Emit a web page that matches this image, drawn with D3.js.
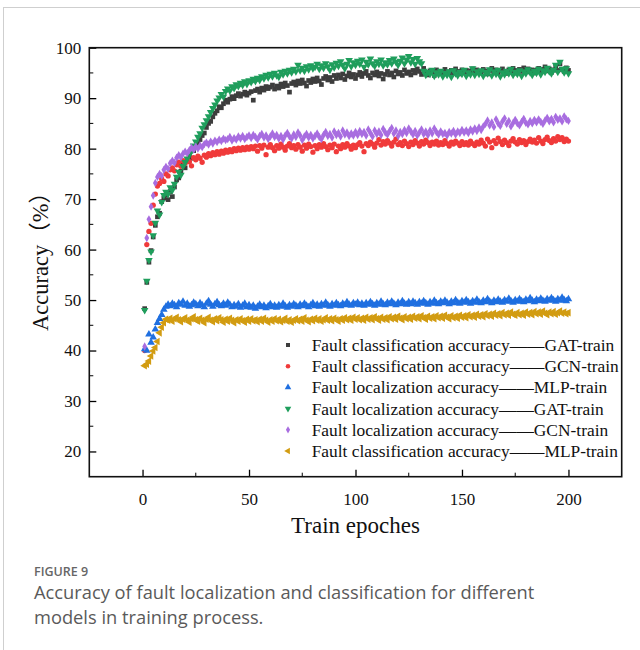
<!DOCTYPE html>
<html>
<head>
<meta charset="utf-8">
<script src="https://cdn.jsdelivr.net/npm/d3@7"></script>
<style>
  body { margin: 0; background: #fff; }
  svg { display: block; }
</style>
</head>
<body>
<script>
// DATA (one value per epoch 1..200)

let epochs = d3.range(1, 201);

let gatCls = [48.3,53.5,57.5,59.8,62.5,64.8,66.5,67.2,69.5,70.2,70.8,69.9,71.5,70.5,72.4,73.8,74.2,75.5,76.8,76.2,
  77.5,78.8,78.1,79.6,80.4,80.9,81.8,82.6,83.1,84.2,85.0,85.4,86.3,87.0,87.5,88.3,88.1,88.9,89.6,89.2,
  89.8,90.3,89.9,90.5,90.9,90.4,90.8,91.2,90.6,91.0,91.3,89.6,91.5,91.8,91.2,92.0,91.6,92.3,91.9,92.2,
  92.6,91.8,92.4,92.0,92.8,92.3,93.0,92.5,91.2,92.9,93.2,92.6,93.4,92.9,93.6,93.0,92.4,93.5,93.1,93.8,
  93.3,94.0,93.4,92.7,93.9,94.3,93.6,94.1,93.3,94.5,93.9,94.6,94.0,94.8,93.7,94.4,95.0,94.2,94.7,93.9,
  94.6,95.1,94.3,94.9,95.3,94.5,94.0,95.0,94.6,95.2,94.4,94.9,93.8,94.7,95.3,94.6,95.0,94.2,95.4,94.8,
  95.1,94.5,95.6,94.9,95.2,94.6,95.5,95.0,95.8,95.3,94.7,95.9,95.0,94.6,95.4,95.1,94.5,95.6,95.0,95.3,
  94.8,95.7,95.2,94.9,95.5,95.0,95.8,95.3,94.8,95.6,95.2,95.5,94.9,95.4,95.8,95.1,95.6,95.3,95.0,95.7,
  95.4,94.8,95.5,95.9,95.2,95.6,95.0,95.4,95.8,95.3,94.9,95.6,95.2,95.9,95.5,95.1,95.7,95.3,96.0,95.4,
  95.8,95.2,95.6,95.0,95.5,95.9,95.3,95.7,96.2,95.4,95.8,95.1,95.6,96.4,95.5,96.8,95.7,95.3,96.0,95.5];

let gcnCls = [40.0,61.0,63.6,65.2,68.8,71.0,72.6,73.1,74.0,73.5,75.0,74.6,75.8,76.2,75.6,76.8,77.3,76.5,77.6,77.1,
  77.9,77.4,76.6,78.2,77.8,78.5,78.1,77.3,78.7,78.3,79.0,78.6,79.2,78.8,79.4,78.9,79.5,79.1,79.7,79.3,
  79.8,79.4,80.0,79.6,80.1,79.7,80.2,79.8,80.3,79.9,80.4,80.0,80.5,79.5,80.6,80.1,80.7,78.8,80.3,80.8,
  80.2,79.6,80.6,80.1,80.9,80.3,79.7,80.5,81.0,80.2,80.6,79.9,80.8,80.3,79.5,80.7,80.1,80.9,80.4,79.3,
  80.6,80.0,80.8,80.3,81.0,80.4,79.8,80.7,80.2,80.9,79.4,80.5,80.0,80.8,80.3,81.0,80.5,79.9,80.7,80.2,
  80.8,81.2,80.5,79.4,81.0,80.6,81.3,80.9,80.3,81.1,81.8,80.7,81.4,80.9,81.6,81.1,80.5,81.3,81.9,80.8,
  81.2,80.6,81.5,81.0,80.4,81.3,80.8,81.6,81.1,80.5,81.4,80.9,81.7,81.2,80.6,81.3,80.9,81.5,80.7,81.2,
  80.8,81.6,81.0,80.5,81.3,80.9,81.5,81.1,80.6,81.4,80.8,81.2,80.7,81.5,81.0,80.6,81.3,80.9,81.7,81.1,
  80.5,81.9,81.3,80.2,81.6,81.0,82.1,81.4,80.8,81.7,81.2,80.6,81.5,82.0,81.3,80.9,81.8,81.2,81.6,80.8,
  81.4,81.9,81.3,81.7,81.1,82.2,81.5,81.0,81.8,82.3,81.6,81.2,82.0,81.5,82.4,81.8,82.2,81.4,81.9,81.5];

let mlpLoc = [40.3,40.0,43.2,41.6,42.6,44.2,45.5,46.3,47.1,48.1,48.7,49.1,48.8,49.3,49.0,48.6,49.4,49.1,49.7,48.9,
  49.3,48.7,49.0,49.5,49.2,48.8,49.4,49.0,48.6,49.3,49.8,49.1,48.7,49.2,49.6,49.0,48.8,49.3,48.9,49.5,
  49.1,48.6,49.0,48.7,49.2,48.5,48.9,49.3,48.6,49.0,48.5,48.9,48.3,48.7,49.1,48.6,48.9,48.4,48.8,49.2,
  48.6,48.9,48.5,49.0,48.7,49.3,48.8,48.5,49.0,48.7,49.2,48.9,48.6,49.1,48.8,49.3,48.9,48.6,49.0,49.4,
  48.8,49.1,48.7,49.2,48.9,49.5,49.0,48.7,49.2,48.9,49.4,49.0,48.8,49.3,49.0,49.6,49.1,48.9,49.4,49.1,
  49.5,49.0,49.3,48.9,49.4,49.1,49.6,49.2,48.9,49.4,49.1,49.7,49.2,49.0,49.5,49.2,49.7,49.3,49.0,49.5,
  49.2,49.8,49.3,49.1,49.6,49.2,49.7,49.4,49.1,49.6,49.3,49.8,49.4,49.1,49.6,49.3,49.9,49.4,49.2,49.7,
  49.4,49.9,49.5,49.2,49.7,49.4,50.0,49.5,49.3,49.8,49.5,50.0,49.6,49.3,49.8,49.5,50.1,49.6,49.4,49.9,
  49.6,50.2,49.7,49.4,49.9,49.6,50.1,49.7,49.5,50.0,49.7,50.3,49.8,49.5,50.0,49.7,50.2,49.8,49.6,50.1,
  49.8,50.4,49.9,49.6,50.1,49.8,50.3,49.9,49.7,50.2,49.9,50.4,50.0,49.7,50.2,49.9,50.5,50.0,49.8,50.2];

let gatLoc = [48.0,53.8,57.9,59.6,62.8,65.3,67.7,66.9,69.4,70.8,71.4,71.0,72.3,71.8,73.0,74.4,75.4,74.8,76.5,77.3,
  78.0,78.9,79.5,80.6,81.4,82.3,83.0,84.1,84.8,85.6,86.4,87.2,88.0,88.7,89.5,90.1,90.8,90.3,91.4,91.9,
  91.5,92.3,92.0,92.7,92.4,93.0,92.6,93.3,92.8,93.5,93.2,93.8,93.4,94.0,93.6,94.3,93.9,94.6,94.1,94.8,
  94.3,95.0,94.5,94.2,95.2,94.7,95.4,94.9,95.6,95.1,95.8,95.3,96.6,95.5,96.0,95.4,96.3,95.7,96.5,95.9,
  96.2,96.8,95.8,96.5,96.0,96.9,96.3,95.6,96.7,96.1,97.0,96.4,97.3,96.6,95.9,96.8,97.5,96.3,97.1,96.6,
  97.4,96.8,97.6,96.2,97.2,96.7,97.8,96.9,96.4,97.3,96.8,97.6,96.5,97.1,96.7,97.5,96.9,97.8,97.2,96.6,
  97.4,98.0,96.9,97.6,98.3,97.1,97.7,96.8,97.9,97.3,96.9,95.4,94.6,95.2,94.8,95.6,94.4,95.1,94.7,95.4,
  94.3,95.0,94.6,95.3,94.2,95.5,94.9,94.5,95.2,94.8,95.6,94.4,95.1,94.7,95.9,94.6,95.3,94.8,95.5,94.4,
  95.2,94.9,95.7,94.5,95.3,94.8,95.6,94.3,95.1,94.7,95.4,94.9,95.8,94.6,95.2,94.8,95.5,94.4,95.3,94.9,
  95.7,95.1,94.6,95.4,95.0,95.8,94.7,95.5,95.2,96.0,95.3,94.9,95.6,96.6,95.2,97.2,95.8,95.1,95.9,94.9];

let gcnLoc = [40.8,62.3,66.0,68.5,70.7,73.2,74.4,75.0,74.6,75.8,76.4,76.0,77.1,77.6,77.2,78.2,78.7,78.3,79.0,79.4,
  79.1,79.7,80.2,79.8,80.4,80.0,80.6,80.3,80.9,81.2,80.8,81.4,81.0,81.6,81.3,81.8,81.5,82.0,81.7,81.9,
  82.3,81.6,82.1,81.8,82.4,82.0,82.5,81.9,82.3,82.6,82.1,82.7,82.3,81.8,82.5,82.9,82.2,82.6,81.9,82.4,
  83.0,82.3,82.7,82.0,82.5,81.8,82.6,83.1,82.4,82.0,82.8,82.3,83.2,82.6,81.7,82.4,82.9,82.2,82.7,82.0,
  82.5,83.0,82.3,81.9,82.7,83.3,82.5,82.9,82.2,83.4,82.7,83.1,82.4,83.6,82.8,83.2,82.5,83.0,82.6,83.3,
  82.7,83.5,82.9,83.3,82.6,83.8,83.1,82.4,83.6,82.9,83.4,82.7,83.9,83.2,82.8,83.5,84.1,83.0,83.6,82.5,
  83.3,82.9,83.7,83.1,84.0,83.4,82.8,83.5,82.6,83.2,83.8,82.9,83.4,82.7,83.6,83.0,84.0,83.3,82.8,83.4,
  82.9,83.1,82.6,83.3,83.0,83.5,82.8,83.4,83.1,83.7,83.2,83.6,83.1,83.8,83.4,84.0,83.5,84.2,83.7,84.4,
  84.9,85.6,84.6,85.2,84.3,85.8,85.0,84.5,85.4,86.0,84.9,85.5,84.4,85.1,85.7,85.0,84.6,85.3,85.9,85.1,
  84.8,85.5,85.0,85.7,85.2,85.8,85.3,84.9,85.6,86.1,85.4,85.9,85.2,86.3,85.7,86.0,85.4,86.4,85.8,85.5];

let mlpCls = [37.0,37.3,37.9,38.9,39.9,40.6,41.8,43.5,44.6,45.5,46.2,46.0,46.4,45.8,46.3,46.6,46.1,45.7,46.2,46.5,
  46.0,45.6,46.3,46.7,46.1,45.8,46.4,46.0,45.5,46.2,46.6,46.0,45.7,46.3,45.9,46.5,46.1,45.6,46.2,45.8,
  46.4,46.0,45.5,46.1,45.8,46.3,45.9,45.6,46.2,45.8,46.3,45.9,46.1,45.7,46.2,45.8,46.4,46.0,45.6,46.1,
  45.8,46.3,45.9,46.2,45.7,46.0,46.4,45.8,46.1,45.6,46.0,46.3,45.9,46.2,45.8,46.5,46.0,45.7,46.2,45.9,
  46.4,46.0,46.3,45.8,46.1,46.5,46.0,46.3,45.9,46.4,46.1,45.8,46.3,46.0,46.5,46.1,46.4,46.0,46.6,46.2,
  46.5,46.1,46.4,46.0,46.6,46.2,46.5,46.1,46.7,46.3,46.0,46.6,46.2,46.5,46.1,46.7,46.3,46.6,46.2,46.8,
  46.4,46.1,46.7,46.3,46.6,46.2,46.8,46.4,46.7,46.3,46.9,46.5,46.2,46.8,46.4,46.7,46.3,46.9,46.5,46.8,
  46.4,47.0,46.6,46.3,46.9,46.5,46.8,46.4,47.0,46.6,46.9,46.5,47.1,46.7,47.0,46.6,47.2,46.8,47.1,46.7,
  47.3,46.9,47.2,46.8,47.4,47.0,47.3,46.9,47.5,47.1,47.4,47.0,47.6,47.2,47.0,47.5,47.1,47.4,47.0,47.6,
  47.2,47.5,47.1,47.7,47.3,47.6,47.2,47.8,47.4,47.1,47.6,47.3,47.7,47.2,47.5,47.8,47.4,47.6,47.3,47.5];

let seriesNames = [
  "Fault classification accuracy——GAT-train",
  "Fault classification accuracy——GCN-train",
  "Fault localization accuracy——MLP-train",
  "Fault localization accuracy——GAT-train",
  "Fault localization accuracy——GCN-train",
  "Fault classification accuracy——MLP-train"
];
let seriesValues = [gatCls, gcnCls, mlpLoc, gatLoc, gcnLoc, mlpCls];
let seriesColors = ["#3d3d3d", "#f03a3a", "#1f6fe0", "#1f9e5c", "#a86de0", "#d29c12"];

let xTicks = [0, 50, 100, 150, 200];
let xMinor = [25, 75, 125, 175];
let yTicks = [20, 30, 40, 50, 60, 70, 80, 90, 100];
let yMinor = [25, 35, 45, 55, 65, 75, 85, 95];

// markers: square, circle, up-triangle, down-triangle, diamond, left-triangle
let markerTypes = [d3.symbolSquare, d3.symbolCircle, d3.symbolTriangle, d3.symbolTriangle, d3.symbolDiamond, d3.symbolTriangle];
let markerRotate = [0, 0, 0, 180, 0, -90];
let markerSize = [22, 22, 25, 25, 20, 25];

// CHART

let width = 640;
let height = 650;
let mLeft = 89.3, mRight = 621.7, mTop = 47.7, mBottom = 476.7;
let serif = "'Liberation Serif', 'Times New Roman', serif";

let svg = d3.select("body").append("svg")
  .attr("width", width)
  .attr("height", height);

// panel border
svg.append("rect")
  .attr("x", 3.5).attr("y", 7.5)
  .attr("width", 700).attr("height", 700)
  .attr("fill", "none")
  .attr("stroke", "#cfcfcf")
  .attr("stroke-width", 1);

let x = d3.scaleLinear().domain([-25, 225]).range([mLeft, mRight]);
let y = d3.scaleLinear().domain([15, 100]).range([mBottom, mTop]);

let plot = svg.append("g");

seriesValues.forEach((vals, s) => {
  let sym = d3.symbol().type(markerTypes[s]).size(markerSize[s]);
  plot.append("g")
    .selectAll("path")
    .data(vals)
    .join("path")
    .attr("d", sym)
    .attr("transform", (d, i) => "translate(" + x(epochs[i]) + "," + y(d) + ") rotate(" + markerRotate[s] + ")")
    .attr("fill", seriesColors[s]);
});

// axes (ticks pointing inward)
let xAxis = d3.axisBottom(x).tickValues(xTicks).tickSize(-7).tickPadding(16).tickFormat(d3.format("d"));
let gx = svg.append("g")
  .attr("transform", "translate(0," + mBottom + ")")
  .call(xAxis);
gx.append("g").selectAll("line")
  .data(xMinor)
  .join("line")
  .attr("x1", d => x(d)).attr("x2", d => x(d))
  .attr("y1", 0).attr("y2", -4)
  .attr("stroke", "#000");

let yAxis = d3.axisLeft(y).tickValues(yTicks).tickSize(-7).tickPadding(16);
let gy = svg.append("g")
  .attr("transform", "translate(" + mLeft + ",0)")
  .call(yAxis);
gy.append("g").selectAll("line")
  .data(yMinor)
  .join("line")
  .attr("y1", d => y(d)).attr("y2", d => y(d))
  .attr("x1", 0).attr("x2", 4)
  .attr("stroke", "#000");

[gx, gy].forEach(g => {
  g.select(".domain").remove();
  g.selectAll(".tick line").attr("stroke", "#000").attr("stroke-width", 1.3);
  g.selectAll("text").attr("font-family", serif).attr("font-size", 17).attr("fill", "#111");
});
gy.selectAll(".tick text").attr("dx", 8);

// frame
svg.append("rect")
  .attr("x", mLeft).attr("y", mTop)
  .attr("width", mRight - mLeft).attr("height", mBottom - mTop)
  .attr("fill", "none")
  .attr("stroke", "#111")
  .attr("stroke-width", 1.6);

// axis titles
svg.append("text")
  .attr("x", x(100))
  .attr("y", 533)
  .attr("text-anchor", "middle")
  .attr("font-family", serif)
  .attr("font-size", 23)
  .attr("fill", "#111")
  .text("Train epoches");

svg.append("text")
  .attr("transform", "translate(48," + 256 + ") rotate(-90)")
  .attr("text-anchor", "middle")
  .attr("font-family", serif + ", 'Noto Sans CJK SC'")
  .attr("font-size", 22.5)
  .attr("fill", "#111")
  .text("Accuracy（%）");

// legend
let legend = svg.append("g");
seriesNames.forEach((name, s) => {
  let ly = 345 + s * 21.2;
  legend.append("path")
    .attr("d", d3.symbol().type(markerTypes[s]).size(markerSize[s] * 0.75))
    .attr("transform", "translate(288," + ly + ") rotate(" + markerRotate[s] + ")")
    .attr("fill", seriesColors[s]);
  legend.append("text")
    .attr("x", 311.7)
    .attr("y", ly + 6)
    .attr("font-family", serif)
    .attr("font-size", 17.4)
    .attr("fill", "#111")
    .text(name);
});

// caption
svg.append("text")
  .attr("x", 34).attr("y", 576)
  .attr("font-family", "'Open Sans', sans-serif")
  .attr("font-size", 12.5)
  .attr("font-weight", 600)
  .attr("fill", "#666")
  .text("FIGURE 9");

let capLines = ["Accuracy of fault localization and classification for different",
  "models in training process."];
capLines.forEach((t, i) => {
  svg.append("text")
    .attr("x", 34).attr("y", 599 + i * 24.5)
    .attr("font-family", "'Open Sans', sans-serif")
    .attr("font-size", 18.3)
    .attr("fill", "#5a5a5a")
    .text(t);
});
</script>
</body>
</html>
